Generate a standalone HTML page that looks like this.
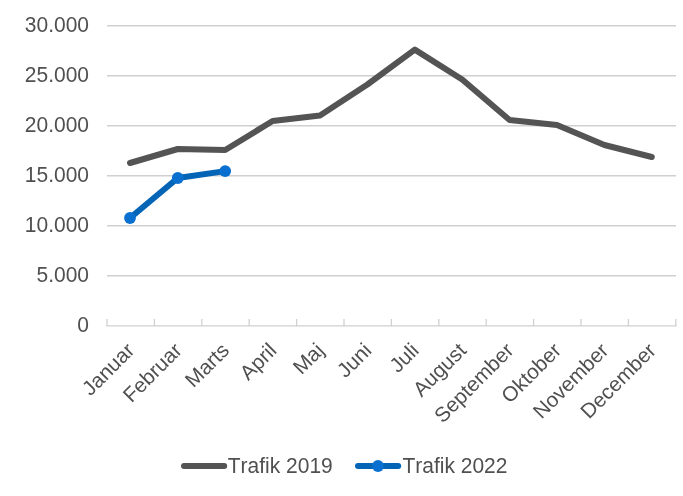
<!DOCTYPE html>
<html lang="da"><head><meta charset="utf-8"><title>Trafik 2019 / Trafik 2022</title>
<style>html,body{margin:0;padding:0;background:#fff}body{width:683px;height:496px;overflow:hidden}</style>
</head><body>
<svg width="683" height="496" viewBox="0 0 683 496" style="display:block">
<rect width="683" height="496" fill="#fff"/>
<line x1="107.0" y1="25.80" x2="676" y2="25.80" stroke="#d0d0d0" stroke-width="1.6"/>
<line x1="107.0" y1="75.80" x2="676" y2="75.80" stroke="#d0d0d0" stroke-width="1.6"/>
<line x1="107.0" y1="125.80" x2="676" y2="125.80" stroke="#d0d0d0" stroke-width="1.6"/>
<line x1="107.0" y1="175.80" x2="676" y2="175.80" stroke="#d0d0d0" stroke-width="1.6"/>
<line x1="107.0" y1="225.80" x2="676" y2="225.80" stroke="#d0d0d0" stroke-width="1.6"/>
<line x1="107.0" y1="275.80" x2="676" y2="275.80" stroke="#d0d0d0" stroke-width="1.6"/>
<line x1="106.4" y1="325.80" x2="676.6" y2="325.80" stroke="#d0d0d0" stroke-width="1.3"/>
<line x1="107.00" y1="319" x2="107.00" y2="326.10" stroke="#d0d0d0" stroke-width="1.3"/>
<line x1="154.40" y1="319" x2="154.40" y2="326.10" stroke="#d0d0d0" stroke-width="1.3"/>
<line x1="201.80" y1="319" x2="201.80" y2="326.10" stroke="#d0d0d0" stroke-width="1.3"/>
<line x1="249.20" y1="319" x2="249.20" y2="326.10" stroke="#d0d0d0" stroke-width="1.3"/>
<line x1="296.60" y1="319" x2="296.60" y2="326.10" stroke="#d0d0d0" stroke-width="1.3"/>
<line x1="344.00" y1="319" x2="344.00" y2="326.10" stroke="#d0d0d0" stroke-width="1.3"/>
<line x1="391.40" y1="319" x2="391.40" y2="326.10" stroke="#d0d0d0" stroke-width="1.3"/>
<line x1="438.80" y1="319" x2="438.80" y2="326.10" stroke="#d0d0d0" stroke-width="1.3"/>
<line x1="486.20" y1="319" x2="486.20" y2="326.10" stroke="#d0d0d0" stroke-width="1.3"/>
<line x1="533.60" y1="319" x2="533.60" y2="326.10" stroke="#d0d0d0" stroke-width="1.3"/>
<line x1="581.00" y1="319" x2="581.00" y2="326.10" stroke="#d0d0d0" stroke-width="1.3"/>
<line x1="628.40" y1="319" x2="628.40" y2="326.10" stroke="#d0d0d0" stroke-width="1.3"/>
<line x1="675.80" y1="319" x2="675.80" y2="326.10" stroke="#d0d0d0" stroke-width="1.3"/>
<g font-family="'Liberation Sans', sans-serif" font-size="21.0" fill="#505050" style="font-kerning:none">
<text text-anchor="end" transform="translate(89.0 32.20) scale(1 1.03)">30.000</text>
<text text-anchor="end" transform="translate(89.0 82.20) scale(1 1.03)">25.000</text>
<text text-anchor="end" transform="translate(89.0 132.20) scale(1 1.03)">20.000</text>
<text text-anchor="end" transform="translate(89.0 182.20) scale(1 1.03)">15.000</text>
<text text-anchor="end" transform="translate(89.0 232.20) scale(1 1.03)">10.000</text>
<text text-anchor="end" transform="translate(89.0 282.20) scale(1 1.03)">5.000</text>
<text text-anchor="end" transform="translate(89.0 332.20) scale(1 1.03)">0</text>
<text font-size="20.9" text-anchor="end" transform="translate(135.70 351.7) rotate(-45) scale(1 0.99)">Januar</text>
<text font-size="20.9" text-anchor="end" transform="translate(183.10 351.7) rotate(-45) scale(1 0.99)">Februar</text>
<text font-size="20.9" text-anchor="end" transform="translate(230.50 351.7) rotate(-45) scale(1 0.99)">Marts</text>
<text font-size="20.9" text-anchor="end" transform="translate(277.90 351.7) rotate(-45) scale(1 0.99)">April</text>
<text font-size="20.9" text-anchor="end" transform="translate(325.30 351.7) rotate(-45) scale(1 0.99)">Maj</text>
<text font-size="20.9" text-anchor="end" transform="translate(372.70 351.7) rotate(-45) scale(1 0.99)">Juni</text>
<text font-size="20.9" text-anchor="end" transform="translate(420.10 351.7) rotate(-45) scale(1 0.99)">Juli</text>
<text font-size="20.9" text-anchor="end" transform="translate(467.50 351.7) rotate(-45) scale(1 0.99)">August</text>
<text font-size="20.9" text-anchor="end" transform="translate(514.90 351.7) rotate(-45) scale(1 0.99)">September</text>
<text font-size="20.9" text-anchor="end" transform="translate(562.30 351.7) rotate(-45) scale(1 0.99)">Oktober</text>
<text font-size="20.9" text-anchor="end" transform="translate(609.70 351.7) rotate(-45) scale(1 0.99)">November</text>
<text font-size="20.9" text-anchor="end" transform="translate(657.10 351.7) rotate(-45) scale(1 0.99)">December</text>
<text transform="translate(227.8 472.8) scale(1 1.03)">Trafik 2019</text>
<text transform="translate(402.5 472.8) scale(1 1.03)">Trafik 2022</text>
</g>
<polyline points="130.00,163.00 177.80,149.00 225.20,150.00 272.60,121.00 320.00,115.50 367.40,84.50 414.80,49.60 462.20,79.50 509.60,120.00 557.00,125.00 604.40,145.00 651.80,157.00" fill="none" stroke="#545454" stroke-width="6.0" stroke-linecap="round" stroke-linejoin="round"/>
<polyline points="130.00,218.00 177.80,178.00 225.20,171.10" fill="none" stroke="#0464B6" stroke-width="6.0" stroke-linecap="round" stroke-linejoin="round"/>
<circle cx="130.00" cy="218.00" r="5.9" fill="#0970D0"/>
<circle cx="177.80" cy="178.00" r="5.9" fill="#0970D0"/>
<circle cx="225.20" cy="171.10" r="5.9" fill="#0970D0"/>
<line x1="184" y1="465.9" x2="224.2" y2="465.9" stroke="#545454" stroke-width="6.0" stroke-linecap="round"/>
<line x1="358.0" y1="465.9" x2="398.2" y2="465.9" stroke="#0464B6" stroke-width="6.0" stroke-linecap="round"/>
<circle cx="378.0" cy="466.0" r="5.9" fill="#0970D0"/>
</svg>
</body></html>
